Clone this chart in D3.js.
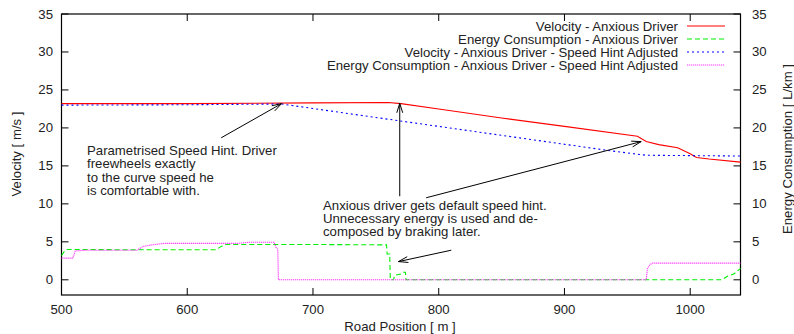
<!DOCTYPE html>
<html><head><meta charset="utf-8">
<script src="https://cdn.jsdelivr.net/npm/d3@7/dist/d3.min.js"></script>
<style>
body{margin:0;background:#fff}
text{font-family:"Liberation Sans",Arial,Helvetica,sans-serif;font-size:13.2px;fill:#222}
</style></head><body>
<svg id="c" width="794" height="334"></svg>
<script>
// ---- data ----
const xTicks = [500,600,700,800,900,1000];
const yTicks = [0,5,10,15,20,25,30,35];
const seriesNames = [
  "Velocity - Anxious Driver",
  "Energy Consumption - Anxious Driver",
  "Velocity - Anxious Driver - Speed Hint Adjusted",
  "Energy Consumption - Anxious Driver - Speed Hint Adjusted"
];
const velAnxious = [[500,23.2],[600,23.2],[700,23.3],[760,23.35],[770,23.2],[800,22.5],[850,21.3],[900,20.2],[958,18.9],[965,18.2],[975,17.8],[990,17.4],[1000,16.6],[1005,16.1],[1015,15.9],[1040,15.5]];
const energyAnxious = [[500,3.2],[503,3.9],[505,4.0],[560,3.95],[623,3.95],[627,4.4],[631,4.65],[700,4.65],[758.5,4.6],[759,3.4],[761,3.4],[761.5,0],[764,0],[765,0.6],[771,0.8],[772,1.0],[773.5,1.0],[774,0],[1025,0],[1030,0.5],[1035,0.8],[1040,1.5]];
const velAdjusted = [[500,23.0],[600,23.05],[675,23.15],[768,20.95],[934,17.05],[955,16.6],[965,16.4],[1040,16.3]];
const energyAdjusted = [[500,2.85],[509,2.85],[511,3.8],[520,3.9],[560,3.9],[565,4.4],[572,4.6],[582,4.8],[640,4.8],[650,4.95],[669,4.95],[670.5,4.3],[672,4.0],[672.5,0],[965,0],[966,1.5],[968,2.0],[970,2.2],[1040,2.2]];

const annot1 = ["Parametrised Speed Hint. Driver","freewheels exactly","to the curve speed he","is comfortable with."];
const annot2 = ["Anxious driver gets default speed hint.","Unnecessary energy is used and de-","composed by braking later."];

// ---- layout ----
const svg = d3.select("#c");
const L=61.5, R=740.5, T=14, B=295;
const x = d3.scaleLinear().domain([500,1040]).range([L,R]);
const y = d3.scaleLinear().domain([-2,35]).range([B,T]);
const tick = 7;

// frame
svg.append("rect").attr("x",L).attr("y",T).attr("width",R-L).attr("height",B-T)
  .attr("fill","none").attr("stroke","#000").attr("stroke-width",1.2);

// ticks
const tg = svg.append("g").attr("stroke","#000").attr("stroke-width",1);
xTicks.forEach(v=>{
  tg.append("line").attr("x1",x(v)).attr("x2",x(v)).attr("y1",B).attr("y2",B-tick);
  tg.append("line").attr("x1",x(v)).attr("x2",x(v)).attr("y1",T).attr("y2",T+tick);
});
yTicks.forEach(v=>{
  tg.append("line").attr("x1",L).attr("x2",L+tick).attr("y1",y(v)).attr("y2",y(v));
  tg.append("line").attr("x1",R).attr("x2",R-tick).attr("y1",y(v)).attr("y2",y(v));
});
// tick labels
xTicks.forEach(v=>svg.append("text").attr("x",x(v)).attr("y",314).attr("text-anchor","middle").text(v));
yTicks.forEach(v=>{
  svg.append("text").attr("x",53).attr("y",y(v)+4.5).attr("text-anchor","end").text(v);
  svg.append("text").attr("x",752).attr("y",y(v)+4.5).attr("text-anchor","start").text(v);
});
// axis titles
svg.append("text").attr("x",400).attr("y",331).attr("text-anchor","middle").text("Road Position [ m ]");
svg.append("text").attr("transform","translate(21,154) rotate(-90)").attr("text-anchor","middle").text("Velocity [ m/s ]");
svg.append("text").attr("transform","translate(792,149) rotate(-90)").attr("text-anchor","middle").text("Energy Consumption [ L/km ]");

// series
const line = d3.line().x(d=>x(d[0])).y(d=>y(d[1]));
const styles = [
  {data:velAnxious, color:"#ff0000", dash:null},
  {data:energyAnxious, color:"#00ee00", dash:"5,3"},
  {data:velAdjusted, color:"#0000ff", dash:"2,3"},
  {data:energyAdjusted, color:"#ff33ff", dash:"1.2,0.8"}
];
const plot = svg.append("g");
styles.forEach(s=>{
  plot.append("path").attr("d",line(s.data)).attr("fill","none")
    .attr("stroke",s.color).attr("stroke-width",1.1).attr("stroke-dasharray",s.dash);
});

// legend
seriesNames.forEach((n,i)=>{
  const yy = 26 + i*13;
  svg.append("text").attr("x",678).attr("y",yy+4.5).attr("text-anchor","end").text(n);
  svg.append("line").attr("x1",687).attr("x2",725).attr("y1",yy).attr("y2",yy)
    .attr("stroke",styles[i].color).attr("stroke-width",1.1).attr("stroke-dasharray",styles[i].dash);
});

// annotations
annot1.forEach((t,i)=>svg.append("text").attr("x",87).attr("y",155+i*13.3).text(t));
annot2.forEach((t,i)=>svg.append("text").attr("x",323).attr("y",209.5+i*13).text(t));

function arrow(x1,y1,x2,y2){
  const g = svg.append("g").attr("stroke","#000").attr("stroke-width",1).attr("fill","none");
  g.append("line").attr("x1",x1).attr("y1",y1).attr("x2",x2).attr("y2",y2);
  const a = Math.atan2(y2-y1,x2-x1), len=10, sp=0.3;
  [a+Math.PI-sp, a+Math.PI+sp].forEach(b=>{
    g.append("line").attr("x1",x2).attr("y1",y2).attr("x2",x2+len*Math.cos(b)).attr("y2",y2+len*Math.sin(b));
  });
}
// arrows expressed in data coordinates
arrow(x(627),y(18.7),x(675),y(23.2));
arrow(x(769),y(11.0),x(769),y(23.25));
arrow(x(790),y(10.8),x(961),y(18.2));
arrow(x(810),y(3.9),x(768),y(2.4));
</script>
</body></html>
